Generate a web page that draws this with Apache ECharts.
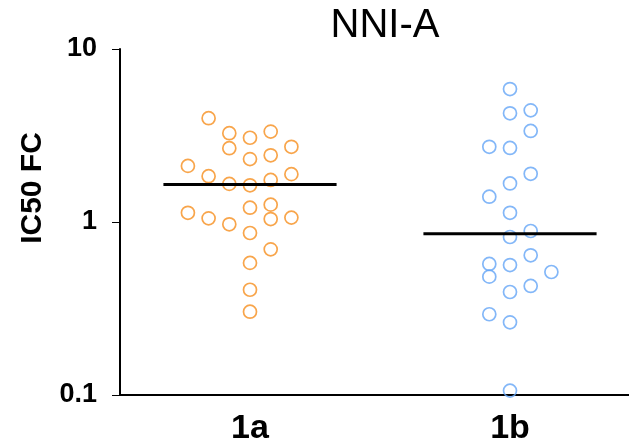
<!DOCTYPE html>
<html>
<head>
<meta charset="utf-8">
<script src="https://cdn.jsdelivr.net/npm/echarts@6/dist/echarts.min.js"></script>
<style>
  html, body { margin: 0; padding: 0; background: #fff; }
  #chart { width: 629px; height: 444px; }
</style>
</head>
<body>
<div id="chart"></div>
<script>
// groups on the x axis
var categories = ['1a', '1b'];
var yTicks = [0.1, 1, 10];

// IC50 fold change values
var valuesA = [3.98, 3.26, 3.07, 3.33, 2.67, 2.72, 2.31, 2.43, 2.11, 1.84, 1.89, 1.66, 1.63,
  1.75, 1.21, 1.26, 1.13, 1.05, 0.97, 1.04, 1.06, 0.864, 0.695, 0.58, 0.406, 0.303];
// horizontal slot of each point in the swarm (0 = centre)
var slotsA = [-2, -1, 0, 1, -1, 2, 0, 1, -3, -2, 2, -1, 0,
  1, 0, 1, -3, -2, -1, 1, 2, 0, 1, 0, 0, 0];

var valuesB = [5.87, 4.25, 4.42, 3.36, 2.72, 2.68, 1.90, 1.67, 1.40, 1.13, 0.887, 0.819,
  0.642, 0.572, 0.564, 0.483, 0.514, 0.427, 0.394, 0.293, 0.263, 0.106];
var slotsB = [0, 0, 1, 1, -1, 0, 1, 0, -1, 0, 1, 0,
  1, -1, 0, -1, 2, 1, 0, -1, 0, 0];

var medians = [1.65, 0.856];

var slotWidth = 0.0796;
var medianHalf = 0.333;

function points(center, values, slots) {
  return values.map(function (v, i) {
    return [center + slots[i] * slotWidth, v];
  });
}

function medianLine(center, m) {
  return [[center - medianHalf, m], [center + medianHalf, m]];
}

var chart = echarts.init(document.getElementById('chart'), null, { renderer: 'canvas' });

var font = 'Liberation Sans, Arial, sans-serif';

var option = {
  animation: false,
  backgroundColor: '#fff',
  title: {
    text: 'NNI-A',
    left: 380,
    textAlign: 'center',
    top: 1,
    textStyle: { fontFamily: font, fontSize: 40, fontWeight: 'normal', color: '#000' }
  },
  // plot runs past the right edge of the window, as in the original
  grid: { left: 120, top: 49, width: 520, height: 346, outerBoundsMode: 'none' },
  xAxis: [
    {
      type: 'category',
      data: categories,
      boundaryGap: true,
      axisLine: { lineStyle: { color: '#000', width: 2 } },
      axisTick: { alignWithLabel: true, length: 9, lineStyle: { color: '#000', width: 1 } },
      axisLabel: { margin: 17, fontFamily: font, fontSize: 34, fontWeight: 'bold', color: '#000' },
      splitLine: { show: false }
    },
    {
      type: 'value',
      min: 0.5,
      max: 2.5,
      show: false
    }
  ],
  yAxis: {
    type: 'log',
    logBase: 10,
    min: yTicks[0],
    max: yTicks[yTicks.length - 1],
    name: 'IC50 FC',
    nameLocation: 'middle',
    nameGap: 72,
    nameRotate: 90,
    nameTextStyle: { fontFamily: font, fontSize: 30, fontWeight: 'bold', color: '#000', padding: [0, 0, 0, 68] },
    axisLine: { show: true, lineStyle: { color: '#000', width: 2 } },
    axisTick: { show: true, length: 8, lineStyle: { color: '#000', width: 1 } },
    axisLabel: { margin: 23, fontFamily: font, fontSize: 27, fontWeight: 'bold', color: '#000',
      formatter: function (v) { return String(v); } },
    splitLine: { show: false },
    minorTick: { show: false }
  },
  series: [
    {
      type: 'scatter',
      xAxisIndex: 1,
      data: points(1, valuesA, slotsA),
      symbol: 'circle',
      symbolSize: 13,
      itemStyle: { color: 'rgba(0,0,0,0)', borderColor: '#F68F1E', borderWidth: 1.7 },
      z: 2
    },
    {
      type: 'scatter',
      xAxisIndex: 1,
      data: points(2, valuesB, slotsB),
      symbol: 'circle',
      symbolSize: 13,
      itemStyle: { color: 'rgba(0,0,0,0)', borderColor: '#64A5F6', borderWidth: 1.7 },
      z: 2
    },
    {
      type: 'line',
      xAxisIndex: 1,
      data: medianLine(1, medians[0]),
      symbol: 'none',
      lineStyle: { color: '#000', width: 3 },
      z: 3
    },
    {
      type: 'line',
      xAxisIndex: 1,
      data: medianLine(2, medians[1]),
      symbol: 'none',
      lineStyle: { color: '#000', width: 3 },
      z: 3
    }
  ]
};

chart.setOption(option);
</script>
</body>
</html>
